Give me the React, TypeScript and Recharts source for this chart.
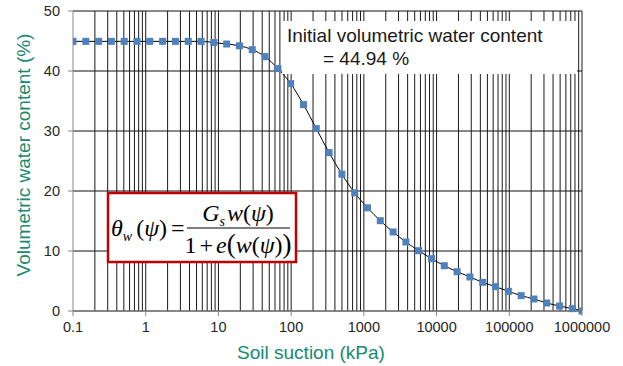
import { LineChart, Line, XAxis, YAxis, CartesianGrid, ReferenceLine } from 'recharts';

// soil suction (kPa), one point every factor 1.5, last point at 1e6
const suction = [
  0.1, 0.15, 0.225, 0.3375, 0.506, 0.759, 1.139, 1.709, 2.563, 3.844,
  5.767, 8.65, 12.97, 19.46, 29.19, 43.79, 65.68, 98.53, 147.8, 221.7,
  332.5, 498.8, 748.2, 1122, 1683, 2525, 3787, 5681, 8521, 12781,
  19172, 28758, 43137, 64705, 97058, 145587, 218380, 327570, 491356, 737033,
  1000000,
];

// volumetric water content (%)
const theta = [
  44.94, 44.94, 44.94, 44.94, 44.94, 44.94, 44.94, 44.94, 44.94, 44.94,
  44.94, 44.75, 44.5, 44.2, 43.55, 42.4, 40.4, 37.9, 34.4, 30.4,
  26.4, 22.8, 19.7, 17.2, 15.05, 13.17, 11.5, 10.05, 8.72, 7.55,
  6.55, 5.67, 4.78, 4.06, 3.28, 2.56, 2.0, 1.33, 0.83, 0.39,
  0,
];

const xTicks = [0.1, 1, 10, 100, 1000, 10000, 100000, 1000000];
const yTicks = [0, 10, 20, 30, 40, 50];
const minorSteps = [1, 2, 3, 4, 5, 6, 7, 8, 9];

const data = suction.map((s, i) => ({ s, theta: theta[i] }));

// log grid lines: 1..9 in every decade, plus the right edge
const gridX = xTicks
  .slice(0, -1)
  .flatMap((d) => minorSteps.map((m) => +(d * m).toPrecision(3)))
  .filter((v) => v !== 0.1)
  .concat([1000000]);

const teal = '#178a6f';
const markerBlue = '#4f81bd';

const SquareDot = (props: any) => {
  const { cx, cy, index } = props;
  if (cx == null || cy == null) return null;
  return <rect key={index} x={cx - 3.5} y={cy - 3.5} width={7} height={7} fill={markerBlue} />;
};

export default function App() {
  return (
    <div style={{ position: 'relative', width: 623, height: 366, background: '#fff' }}>
      <style>{'body{margin:0}'}</style>
      <LineChart
        width={623}
        height={366}
        data={data}
        margin={{ top: 11, right: 41, left: 0, bottom: 0 }}
        style={{ fontFamily: '"Liberation Sans", Arial, sans-serif' }}
      >
        <CartesianGrid vertical={false} stroke="#111" />
        {gridX.map((v) => (
          <ReferenceLine key={v} x={v} stroke="#1a1a1a" strokeWidth={1} />
        ))}
        <XAxis
          dataKey="s"
          type="number"
          scale="log"
          domain={[0.1, 1000000]}
          ticks={xTicks}
          allowDataOverflow
          height={55}
          tickSize={5}
          tickMargin={6}
          stroke="#888"
          tick={{ fontSize: 14.5, fill: '#262626' }}
          tickFormatter={(v) => String(v)}
          label={{
            content: () => (
              <text x={311} y={359} textAnchor="middle" fontSize={19} fill={teal}>
                Soil suction (kPa)
              </text>
            ),
          }}
        />
        <YAxis
          type="number"
          domain={[0, 50]}
          ticks={yTicks}
          width={73}
          tickSize={5}
          tickMargin={8}
          stroke="#888"
          tick={{ fontSize: 14.5, fill: '#262626' }}
          label={{
            content: () => (
              <text
                x={23}
                y={155}
                transform="rotate(-90 23 155)"
                textAnchor="middle"
                dominantBaseline="central"
                fontSize={19}
                fill={teal}
              >
                Volumetric water content (%)
              </text>
            ),
          }}
        />
        <Line
          type="monotone"
          dataKey="theta"
          stroke="#000"
          strokeWidth={1}
          dot={SquareDot}
          activeDot={false}
          isAnimationActive={false}
        />
      </LineChart>
      <svg
        width={623}
        height={366}
        style={{ position: 'absolute', left: 0, top: 0, pointerEvents: 'none' }}
      >
        <rect x={282} y={21} width={295} height={53} fill="#fff" />
        <text x={287} y={42} fontSize={19} fill="#1a1a1a" fontFamily='"Liberation Sans", Arial, sans-serif'>
          Initial volumetric water content
        </text>
        <text x={323} y={65} fontSize={19} fill="#1a1a1a" fontFamily='"Liberation Sans", Arial, sans-serif'>
          = 44.94 %
        </text>

        <rect x={108} y={193} width={188} height={69} fill="#fff" stroke="#c00000" strokeWidth={2.5} />
        <g fontFamily='"Liberation Serif", "DejaVu Serif", serif' fill="#000">
          <text x={111} y={236} fontSize={24}>
            <tspan fontStyle="italic">θ</tspan>
            <tspan fontStyle="italic" fontSize={14} dy={5}>w</tspan>
            <tspan dy={-5} dx={4}>(</tspan>
            <tspan fontStyle="italic">ψ</tspan>
            <tspan>)</tspan>
            <tspan dx={4}>=</tspan>
          </text>
          <text x={238} y={221} fontSize={24} textAnchor="middle">
            <tspan fontStyle="italic">G</tspan>
            <tspan fontStyle="italic" fontSize={14} dy={5}>s</tspan>
            <tspan fontStyle="italic" dy={-5} dx={2}>w</tspan>
            <tspan>(</tspan>
            <tspan fontStyle="italic">ψ</tspan>
            <tspan>)</tspan>
          </text>
          <line x1={187} x2={290} y1={228} y2={228} stroke="#000" strokeWidth={1} />
          <text x={238} y={253} fontSize={24} textAnchor="middle">
            <tspan>1</tspan>
            <tspan dx={3}>+</tspan>
            <tspan fontStyle="italic" dx={3}>e</tspan>
            <tspan fontSize={27}>(</tspan>
            <tspan fontStyle="italic">w</tspan>
            <tspan>(</tspan>
            <tspan fontStyle="italic">ψ</tspan>
            <tspan>)</tspan>
            <tspan fontSize={27}>)</tspan>
          </text>
        </g>
      </svg>
    </div>
  );
}
